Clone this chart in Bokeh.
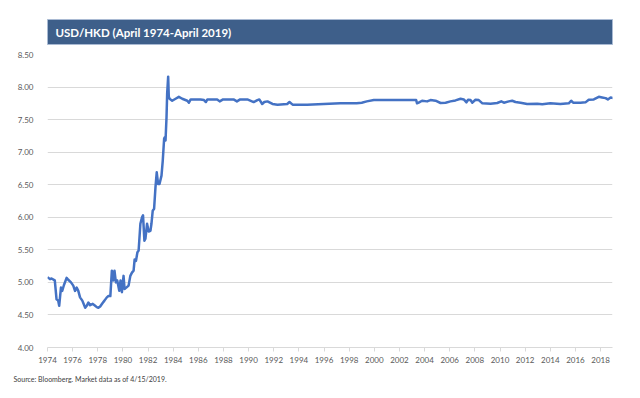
from bokeh.plotting import figure
from bokeh.layouts import column
from bokeh.models import Range1d, FixedTicker, NumeralTickFormatter, Label, Title, ColumnDataSource
from bokeh.embed import file_html
from bokeh.resources import INLINE

# ---- data ----
years = [
    1974.00, 1974.20, 1974.32, 1974.58, 1974.72, 1974.85, 1974.93, 1975.07, 1975.17, 1975.31,
    1975.52, 1975.65, 1975.87, 1976.05, 1976.19, 1976.32, 1976.45, 1976.59, 1976.77, 1977.00,
    1977.12, 1977.25, 1977.39, 1977.60, 1977.79, 1977.92, 1978.05, 1978.19, 1978.37, 1978.53,
    1978.72, 1978.85, 1979.00, 1979.12, 1979.23, 1979.33, 1979.44, 1979.55, 1979.71, 1979.81,
    1979.92, 1980.05, 1980.13, 1980.27, 1980.45, 1980.59, 1980.72, 1980.85, 1980.93, 1981.04,
    1981.15, 1981.25, 1981.39, 1981.52, 1981.60, 1981.71, 1981.79, 1981.92, 1982.05, 1982.19,
    1982.27, 1982.37, 1982.48, 1982.59, 1982.69, 1982.80, 1982.91, 1983.07, 1983.17, 1983.28,
    1983.33, 1983.39, 1983.47, 1983.52, 1983.60, 1983.65, 1983.71, 1983.92, 1984.19, 1984.45,
    1984.72, 1985.12, 1985.25, 1985.39, 1985.79, 1986.17, 1986.45, 1986.60, 1986.72, 1987.50,
    1987.70, 1987.97, 1988.80, 1989.07, 1989.33, 1989.90, 1990.40, 1990.70, 1990.85, 1991.08,
    1991.25, 1991.50, 1991.90, 1992.30, 1993.07, 1993.25, 1993.50, 1994.66, 1995.98, 1997.30,
    1998.60, 1999.00, 1999.40, 1999.96, 2003.33, 2003.40, 2003.53, 2003.80, 2004.20, 2004.47,
    2004.87, 2005.27, 2005.67, 2006.06, 2006.46, 2006.86, 2007.12, 2007.33, 2007.46, 2007.65,
    2007.80, 2008.05, 2008.31, 2008.60, 2009.25, 2009.78, 2010.10, 2010.31, 2010.70, 2010.97,
    2011.23, 2011.63, 2012.16, 2012.96, 2013.36, 2014.00, 2014.80, 2015.47, 2015.66, 2015.82,
    2016.40, 2016.80, 2017.06, 2017.46, 2017.86, 2018.12, 2018.40, 2018.58, 2018.80, 2019.00,
]
usd_hkd = [
    5.08, 5.05, 5.06, 5.03, 4.74, 4.72, 4.64, 4.92, 4.87, 4.96,
    5.07, 5.04, 5.00, 4.95, 4.87, 4.92, 4.87, 4.77, 4.72, 4.61,
    4.64, 4.69, 4.65, 4.67, 4.64, 4.62, 4.61, 4.63, 4.68, 4.72,
    4.77, 4.79, 4.79, 5.18, 5.03, 5.18, 5.00, 5.03, 4.87, 5.03,
    4.85, 5.10, 4.90, 4.92, 4.95, 5.10, 5.15, 5.18, 5.35, 5.33,
    5.46, 5.49, 5.90, 6.00, 6.03, 5.64, 5.67, 5.90, 5.78, 5.79,
    5.90, 6.10, 6.13, 6.46, 6.69, 6.51, 6.51, 6.64, 6.87, 7.21,
    7.23, 7.18, 7.54, 7.90, 8.16, 7.85, 7.82, 7.79, 7.82, 7.85,
    7.82, 7.79, 7.76, 7.81, 7.81, 7.81, 7.80, 7.77, 7.81, 7.81,
    7.78, 7.81, 7.81, 7.78, 7.81, 7.81, 7.77, 7.80, 7.81, 7.74,
    7.77, 7.78, 7.74, 7.73, 7.74, 7.77, 7.73, 7.73, 7.74, 7.75,
    7.75, 7.76, 7.78, 7.80, 7.80, 7.75, 7.76, 7.79, 7.78, 7.80,
    7.79, 7.755, 7.76, 7.78, 7.795, 7.82, 7.81, 7.765, 7.805, 7.80,
    7.76, 7.805, 7.80, 7.75, 7.745, 7.755, 7.78, 7.76, 7.78, 7.79,
    7.77, 7.76, 7.74, 7.745, 7.735, 7.75, 7.74, 7.75, 7.79, 7.76,
    7.76, 7.765, 7.805, 7.81, 7.85, 7.84, 7.83, 7.81, 7.84, 7.83,
]
x_tick_years = [1974, 1976, 1978, 1980, 1982, 1984, 1986, 1988, 1990, 1992, 1994, 1996,
                1998, 2000, 2002, 2004, 2006, 2008, 2010, 2012, 2014, 2016, 2018]
y_tick_values = [4.00, 4.50, 5.00, 5.50, 6.00, 6.50, 7.00, 7.50, 8.00, 8.50]
title_text = "USD/HKD (April 1974-April 2019)"
source_text = "Source: Bloomberg.  Market data as of 4/15/2019."

FONT = "Lato"
GRID = "#D9D9D9"
TICK_TXT = "#595959"

# ---- banner (title bar) ----
banner = figure(width=640, height=48, output_backend="svg", toolbar_location=None,
                x_range=Range1d(0, 1), y_range=Range1d(0, 1),
                x_axis_type=None, y_axis_type=None,
                min_border_left=16, min_border_right=19, min_border_top=19, min_border_bottom=4,
                background_fill_color="#3E5F8A", border_fill_color="white",
                outline_line_color="#A9BAD3")
banner.grid.visible = False
banner.add_layout(Label(x=8, y=12.5, x_units="screen", y_units="screen", text=title_text,
                        text_font=FONT, text_font_style="bold", text_font_size="11.5px",
                        text_color="white", text_baseline="middle"))

# ---- main chart ----
p = figure(width=640, height=350, output_backend="svg", toolbar_location=None,
           x_range=Range1d(1974, 2018.95), y_range=Range1d(4.0, 8.5),
           min_border_left=47, min_border_right=28, min_border_top=6, min_border_bottom=51)
p.outline_line_color = None
p.background_fill_color = "white"
p.border_fill_color = "white"

src = ColumnDataSource(dict(x=years, y=usd_hkd))
p.line("x", "y", source=src, line_color="#4472C4", line_width=2.5, line_join="round")

p.xgrid.grid_line_color = None
p.ygrid.grid_line_color = GRID
p.ygrid.grid_line_width = 1

p.yaxis.ticker = FixedTicker(ticks=y_tick_values)
p.yaxis.formatter = NumeralTickFormatter(format="0.00")
p.yaxis.axis_line_color = None
p.yaxis.major_tick_line_color = None
p.yaxis.minor_tick_line_color = None
p.yaxis.major_label_standoff = 8

p.xaxis.ticker = FixedTicker(ticks=x_tick_years)
p.xaxis.axis_line_color = GRID
p.xaxis.major_tick_line_color = GRID
p.xaxis.major_tick_in = 0
p.xaxis.major_tick_out = 4
p.xaxis.minor_tick_line_color = None
p.xaxis.major_label_standoff = 5

for ax in (p.xaxis[0], p.yaxis[0]):
    ax.major_label_text_font = FONT
    ax.major_label_text_font_size = "8px"
    ax.major_label_text_color = TICK_TXT

p.add_layout(Title(text=source_text, align="left", offset=-34, standoff=14,
                   text_font=FONT, text_font_size="7px", text_font_style="normal",
                   text_color="#404040"), "below")

layout = column(banner, p, spacing=0)
open("out.html", "w").write(file_html(layout, INLINE))
